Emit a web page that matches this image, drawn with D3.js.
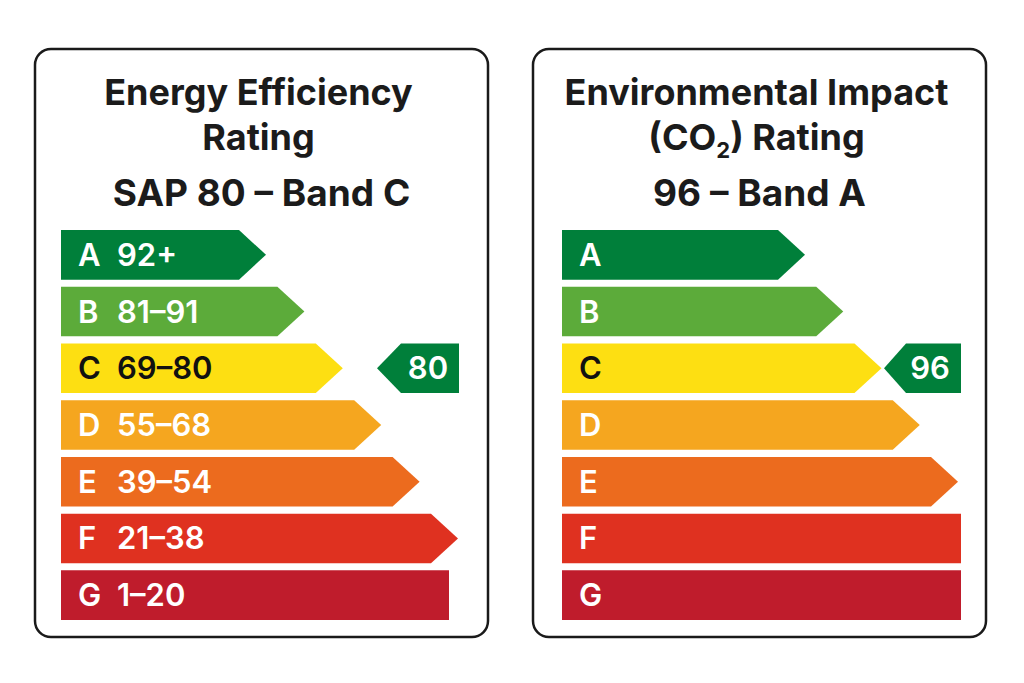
<!DOCTYPE html>
<html>
<head>
<meta charset="utf-8">
<script src="https://cdn.jsdelivr.net/npm/d3@7"></script>
<style>
  html, body { margin: 0; padding: 0; background: #fff; }
  svg { display: block; font-family: Inter, "Noto Sans", sans-serif; }
</style>
</head>
<body>
<svg id="chart" width="1024" height="683"></svg>
<script>
// Data
const bands        = ["A", "B", "C", "D", "E", "F", "G"];
const bandColors   = ["#007f3a", "#5cab3a", "#fddf12", "#f5a61f", "#ec6b1e", "#df3120", "#bf1c2c"];
const bandText     = ["#fff", "#fff", "#111", "#fff", "#fff", "#fff", "#fff"];
const effRanges    = ["92+", "81–91", "69–80", "55–68", "39–54", "21–38", "1–20"];
const effPointed   = [true, true, true, true, true, true, false];
const envPointed   = [true, true, true, true, true, false, false];
const effScore     = 80;
const envScore     = 96;
const effRow       = "C";
const envRow       = "C";

const panels = [
  {
    x: 35, barX0: 26, title: ["Energy Efficiency", "Rating"], sub: `SAP ${effScore} – Band C`,
    ranges: effRanges, pointed: effPointed, score: effScore, row: effRow,
    lenDomain: [0, 5], lenRange: [205, 397], rectLen: 388,
    markRight: 459, markW: 82, markTip: 24
  },
  {
    x: 533, barX0: 29, title: ["Environmental Impact", "co2"], sub: `${envScore} – Band A`,
    ranges: bands.map(() => ""), pointed: envPointed, score: envScore, row: envRow,
    lenDomain: [0, 4], lenRange: [243, 396], rectLen: 399,
    markRight: 961, markW: 77, markTip: 22
  }
];

const svg = d3.select("#chart");

// Layout constants
const panelW   = 453;
const panelTop = 49;
const panelH   = 588;
const barH     = 50;

const y = d3.scaleBand()
  .domain(bands)
  .range([230, 620])
  .paddingInner(0.125);

panels.forEach(p => {
  const g = svg.append("g").attr("transform", `translate(${p.x},0)`);
  const cx = panelW / 2;
  const x0 = p.barX0;

  // Frame
  g.append("rect")
    .attr("x", 0).attr("y", panelTop)
    .attr("width", panelW).attr("height", panelH)
    .attr("rx", 16)
    .attr("fill", "#fff")
    .attr("stroke", "#1a1a1a")
    .attr("stroke-width", 2.5);

  // Titles
  g.append("text")
    .attr("x", cx - 3).attr("y", 105)
    .attr("text-anchor", "middle")
    .attr("font-size", 36).attr("font-weight", 700).attr("fill", "#1b1b1b")
    .text(p.title[0]);

  const t2 = g.append("text")
    .attr("x", cx - 3).attr("y", 150)
    .attr("text-anchor", "middle")
    .attr("font-size", 36).attr("font-weight", 700).attr("fill", "#1b1b1b");
  if (p.title[1] === "co2") {
    t2.append("tspan").text("(CO");
    t2.append("tspan").attr("font-size", 22).attr("dy", 8).text("2");
    t2.append("tspan").attr("dy", -8).text(") Rating");
  } else {
    t2.text(p.title[1]);
  }

  g.append("text")
    .attr("x", cx).attr("y", 206)
    .attr("text-anchor", "middle")
    .attr("font-size", 37).attr("font-weight", 700).attr("fill", "#1b1b1b")
    .text(p.sub);

  // Bars
  const len = d3.scaleLinear().domain(p.lenDomain).range(p.lenRange);
  const tip = barH / 2 + 2;

  bands.forEach((b, i) => {
    const y0 = y(b), h = y.bandwidth();
    const path = d3.path();
    if (p.pointed[i]) {
      const L = len(i);
      path.moveTo(x0, y0);
      path.lineTo(x0 + L - tip, y0);
      path.lineTo(x0 + L, y0 + h / 2);
      path.lineTo(x0 + L - tip, y0 + h);
      path.lineTo(x0, y0 + h);
      path.closePath();
    } else {
      path.rect(x0, y0, p.rectLen, h);
    }
    g.append("path")
      .attr("d", path.toString())
      .attr("fill", bandColors[i]);

    const label = g.append("text")
      .attr("x", x0 + 17)
      .attr("y", y0 + h / 2 + 11)
      .attr("font-size", 31).attr("font-weight", 600)
      .attr("fill", bandText[i]);
    label.append("tspan").text(b);
    if (p.ranges[i]) {
      label.append("tspan").attr("x", x0 + 56).text(p.ranges[i]);
    }
  });

  // Score marker
  const my = y(p.row), mh = y.bandwidth();
  const mr = p.markRight - p.x;
  const ml = mr - p.markW;
  const mp = d3.path();
  mp.moveTo(ml, my + mh / 2);
  mp.lineTo(ml + p.markTip, my);
  mp.lineTo(mr, my);
  mp.lineTo(mr, my + mh);
  mp.lineTo(ml + p.markTip, my + mh);
  mp.closePath();
  g.append("path").attr("d", mp.toString()).attr("fill", bandColors[0]);

  g.append("text")
    .attr("x", mr - 31).attr("y", my + mh / 2 + 11)
    .attr("text-anchor", "middle")
    .attr("font-size", 31).attr("font-weight", 600).attr("fill", "#fff")
    .text(p.score);
});
</script>
</body>
</html>
